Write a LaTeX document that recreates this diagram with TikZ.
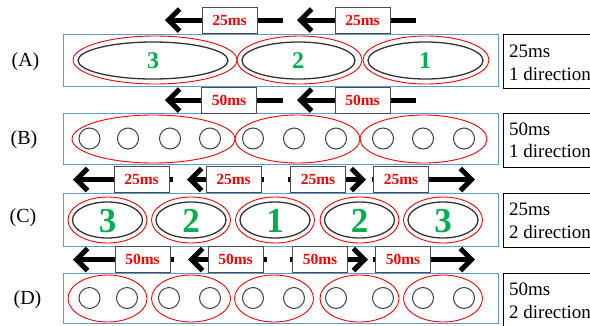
\documentclass[tikz,border=0pt]{standalone}
\usepackage{fontspec}
\setmainfont{Liberation Serif}
\usetikzlibrary{arrows.meta}
\definecolor{pblue}{RGB}{91,155,213}
\definecolor{pgreen}{RGB}{0,176,80}
\begin{document}
\begin{tikzpicture}[x=1pt,y=-1pt,
  frame/.style={draw=pblue, line width=1pt},
  sidebox/.style={draw=black, line width=1pt},
  redell/.style={draw=red, line width=0.9pt},
  blkell/.style={draw=black!80, line width=1.3pt},
  dotc/.style={draw=black!75, line width=1pt},
  msbox/.style={draw=black!70, fill=white, line width=0.9pt, minimum width=55pt, minimum height=26pt, inner sep=0pt, text=red, font=\fontsize{15.5}{15.5}\selectfont\bfseries},
  bigarrow/.style={line width=5pt, -{Straight Barb[length=11pt,width=22pt]}},
  rowlab/.style={font=\fontsize{20}{20}\selectfont},
  sidetext/.style={anchor=base west, inner sep=0pt, font=\fontsize{19}{19}\selectfont},
  numA/.style={text=pgreen, font=\fontsize{24}{24}\selectfont\bfseries},
  numC/.style={text=pgreen, font=\fontsize{35}{35}\selectfont\bfseries},
]
\useasboundingbox (0,0) rectangle (590,325);

% ---------- frames ----------
\draw[frame] (63,34) rectangle (498,86);
\draw[frame] (63,113) rectangle (498,164);
\draw[frame] (63,193) rectangle (498,246);
\draw[frame] (63,273) rectangle (498,323);

% ---------- side boxes ----------
\draw[sidebox] (503,34) rectangle (600,88);
\draw[sidebox] (503,113) rectangle (600,167);
\draw[sidebox] (503,193) rectangle (600,247);
\draw[sidebox] (503,273) rectangle (600,330);
\node[sidetext] (sA1) at (509,57) {25ms};
\node[sidetext] (sA2) at (509,80) {1 direction};
\node[sidetext] (sB1) at (509,135) {50ms};
\node[sidetext] (sB2) at (509,157) {1 direction};
\node[sidetext] (sC1) at (509,215) {25ms};
\node[sidetext] (sC2) at (509,238) {2 direction};
\node[sidetext] (sD1) at (509,295) {50ms};
\node[sidetext] (sD2) at (509,318) {2 direction};

% ---------- row labels ----------
\node[rowlab] (labA) at (25.5,62) {(A)};
\node[rowlab] (labB) at (24,140) {(B)};
\node[rowlab] (labC) at (23,218) {(C)};
\node[rowlab] (labD) at (27.5,300) {(D)};

% ---------- row A ----------
\draw[redell] (155,60) ellipse [x radius=82, y radius=24];
\draw[redell] (299.5,60) ellipse [x radius=62.5, y radius=24];
\draw[redell] (426,60) ellipse [x radius=63, y radius=24];
\draw[blkell] (153,60.5) ellipse [x radius=75, y radius=18.5];
\draw[blkell] (298.5,60.5) ellipse [x radius=56.5, y radius=18.5];
\draw[blkell] (425.5,60.5) ellipse [x radius=57.5, y radius=18.5];
\node[numA] (nA3) at (153,61) {3};
\node[numA] (nA2) at (298,61) {2};
\node[numA] (nA1) at (425,61) {1};

% ---------- row B ----------
\draw[redell] (153.5,139) ellipse [x radius=81.5, y radius=24];
\draw[redell] (297.5,139) ellipse [x radius=62.5, y radius=24];
\draw[redell] (423.5,139) ellipse [x radius=63.5, y radius=24];
\foreach \x in {89.5,128,170,210,253,294,336,383,423,464}
  \draw[dotc] (\x,138.5) circle [radius=10.5];

% ---------- row C ----------
\foreach \x/\n in {107.5/3,191/2,275/1,359.5/2,443/3}{
  \draw[redell] (\x,220) ellipse [x radius=39.5, y radius=23];
  \draw[blkell] (\x,220) ellipse [x radius=35, y radius=18];
  \node[numC] (nC\x) at (\x,221) {\n};
}

% ---------- row D ----------
\foreach \x in {107.5,191,274,359.5,443}
  \draw[redell] (\x,298.5) ellipse [x radius=39.5, y radius=23.5];
\foreach \x in {89.5,127,169,210,253,294,336,383,423,464}
  \draw[dotc] (\x,298) circle [radius=10.5];

% ---------- arrows with time boxes ----------
\foreach \nm/\s/\e/\y/\bx/\t in {
  aA1/283/165/20/229.5/25ms, aA2/416/297/20/362.5/25ms,
  aB1/283/165/100/229/50ms, aB2/416/297/100/362.5/50ms,
  aC1/173/73/179.5/141.5/25ms, aC2/264/187/179.5/233.5/25ms,
  aC3/288/366/179.5/318/25ms, aC4/372/475/179.5/401/25ms,
  aD1/174/73/259.5/142.5/50ms, aD2/267/188/259.5/235.5/50ms,
  aD3/290/368/259.5/320/50ms, aD4/373/475/259.5/403/50ms}{
  \coordinate (\nm s) at (\s,\y);
  \coordinate (\nm e) at (\e,\y);
  \draw[bigarrow] (\nm s) -- (\nm e);
  \node[msbox] (\nm b) at (\bx,\y) {\t};
}
\end{tikzpicture}
\end{document}
